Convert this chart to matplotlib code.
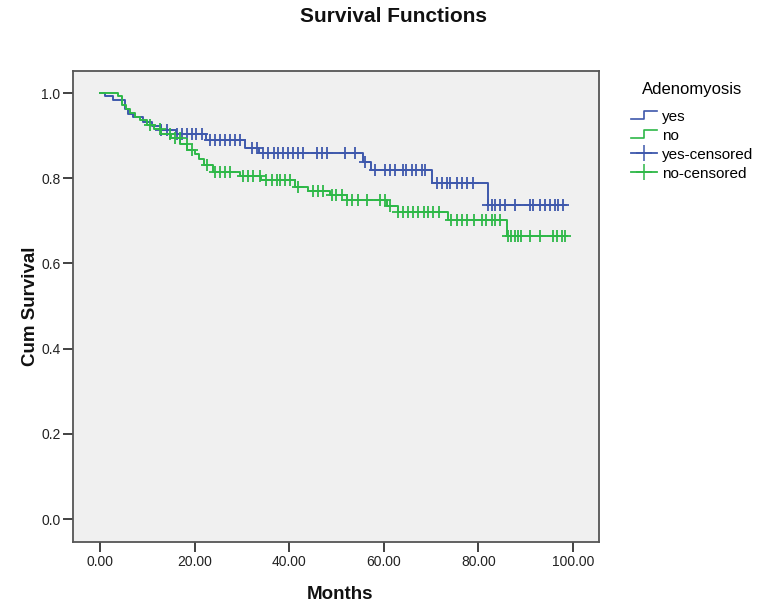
import numpy as np
import matplotlib
matplotlib.use("Agg")
import matplotlib.pyplot as plt
from matplotlib.lines import Line2D
from matplotlib.legend_handler import HandlerBase

plt.rcParams['font.family'] = ['Liberation Sans', 'DejaVu Sans']

# ---- data ----
group_names = ["yes", "no"]
legend_title = "Adenomyosis"

yes_times = [0, 1.1, 2.8, 5.2, 6.0, 7.0, 9.0, 11.0, 13.0, 16.0, 22.5, 30.7, 33.7, 55.6, 57.4, 70.1, 82.0]
yes_surv = [1.0, 0.993, 0.984, 0.962, 0.952, 0.943, 0.932, 0.922, 0.914, 0.903, 0.89, 0.871, 0.859, 0.839, 0.820, 0.789, 0.738]
yes_end = 98.5
yes_censored = [13.0, 14.1, 16.2, 17.3, 18.3, 19.4, 20.4, 21.5, 23.3, 24.3, 25.4, 26.4, 27.5, 28.5, 29.6,
                32.1, 33.1, 34.5, 35.6, 36.7, 37.7, 38.8, 39.8, 40.9, 41.9, 43.0, 45.8, 46.9, 47.9, 51.8,
                53.9, 56.0, 58.1, 60.3, 61.3, 62.4, 64.1, 64.8, 65.9, 66.9, 68.0, 68.7, 71.2, 72.4, 73.3,
                74.0, 75.4, 76.5, 77.7, 78.9, 82.1, 82.8, 83.5, 84.6, 85.6, 87.7, 90.9, 91.6, 93.0, 94.1,
                95.1, 96.2, 96.9, 97.9]

no_times = [0, 3.9, 4.6, 5.6, 6.3, 7.4, 8.5, 9.9, 11.5, 13, 15, 17, 18.5, 20, 21, 22, 24, 29.5, 34,
            41.2, 44, 48.6, 52.2, 60.6, 63, 73.5, 86]
no_surv = [1.0, 0.993, 0.972, 0.962, 0.953, 0.945, 0.937, 0.925, 0.915, 0.905, 0.894, 0.88, 0.867, 0.857,
           0.845, 0.832, 0.816, 0.805, 0.796, 0.779, 0.770, 0.761, 0.749, 0.734, 0.722, 0.702, 0.665]
no_end = 98.5
no_censored = [10.6, 12.7, 14.8, 15.9, 16.9, 18.3, 19.4, 22.6, 24.3, 25.4, 26.4, 27.5, 30.3, 31.4, 32.4,
               33.8, 35.2, 36.3, 37.4, 38.1, 39.1, 40.2, 41.9, 45.1, 46.2, 47.2, 49.0, 50.0, 51.1, 52.2,
               53.2, 54.6, 56.4, 59.2, 60.3, 61.3, 63.1, 64.1, 65.2, 66.2, 67.3, 68.4, 69.4, 70.5, 71.6,
               74.3, 75.5, 76.5, 77.6, 79.0, 80.7, 81.7, 82.8, 83.5, 84.6, 86.3, 87.0, 87.7, 88.4, 89.1,
               90.9, 93.0, 95.8, 96.6, 97.6, 98.3]

x_ticks = [0, 20, 40, 60, 80, 100]
y_ticks = [0.0, 0.2, 0.4, 0.6, 0.8, 1.0]

colors = {"yes": "#3E58AC", "no": "#2EB848"}

W, H = 782, 615
fig = plt.figure(figsize=(W / 100, H / 100), dpi=100)
left, right, top, bottom = 73, 599, 71, 542
ax = fig.add_axes([left / W, 1 - bottom / H, (right - left) / W, (bottom - top) / H])
ax.set_facecolor("#F0F0F0")


def surv_at(times, surv, t):
    idx = np.searchsorted(np.asarray(times), np.asarray(t), side="right") - 1
    return np.asarray(surv)[idx]


series = {
    "yes": (yes_times, yes_surv, yes_end, yes_censored),
    "no": (no_times, no_surv, no_end, no_censored),
}
step_lines = []
cens_lines = []
for name in group_names:
    t, s, end, cens = series[name]
    xs = list(t) + [end]
    ys = list(s) + [s[-1]]
    ln, = ax.step(xs, ys, where="post", color=colors[name], lw=1.4)
    step_lines.append(ln)
    cy = surv_at(t, s, cens)
    ax.plot(cens, cy, linestyle="none", marker="+", markersize=8.5, mew=1.3, color=colors[name])
    cens_lines.append(Line2D([], [], color=colors[name], lw=1.3, marker="+", markersize=11, mew=1.1))

ax.set_xlim(-5.7, 105.5)
ax.set_ylim(-0.054, 1.052)
ax.set_xticks(x_ticks)
ax.set_xticklabels([f"{v:.2f}" for v in x_ticks])
ax.set_yticks(y_ticks)
ax.set_yticklabels([f"{v:.1f}" for v in y_ticks])
ax.tick_params(axis="both", length=7, width=1.3, color="#333333", labelsize=10, labelcolor="#222222", pad=2)
for sp in ax.spines.values():
    sp.set_color("#555555")
    sp.set_linewidth(1.3)

ax.set_xlabel("Months", fontsize=13.5, fontweight="bold", color="#111111")
ax.xaxis.set_label_coords(0.508, -0.112)
ax.xaxis.label.set_va("center")
ax.set_ylabel("Cum Survival", fontsize=13.5, fontweight="bold", color="#111111")
ax.yaxis.set_label_coords(-0.08, 0.5)
ax.yaxis.label.set_va("center")

fig.text(393 / W, 1 - 17 / H, "Survival Functions", ha="center", va="center",
         fontsize=15, fontweight="bold", color="#111111")


class StepHandler(HandlerBase):
    def create_artists(self, legend, orig_handle, xdescent, ydescent, width, height, fontsize, trans):
        x0, y0 = -xdescent, -ydescent
        xs = [x0, x0 + width * 0.5, x0 + width * 0.5, x0 + width]
        ys = [y0 + height * 0.15, y0 + height * 0.15, y0 + height * 0.85, y0 + height * 0.85]
        return [Line2D(xs, ys, color=orig_handle.get_color(), lw=1.2, transform=trans)]


handles = step_lines + cens_lines
labels = group_names + [f"{n}-censored" for n in group_names]
leg = fig.legend(handles, labels, title=legend_title, loc="upper left",
                 bbox_to_anchor=(631 / W, 1 - 82 / H), frameon=False, fontsize=11,
                 title_fontsize=12, handlelength=1.7, handletextpad=0.35, labelspacing=0.33,
                 borderpad=0, borderaxespad=0,
                 handler_map={step_lines[0]: StepHandler(), step_lines[1]: StepHandler()})
leg._legend_box.sep = 9

fig.savefig("out.png", dpi=100, facecolor="white")
